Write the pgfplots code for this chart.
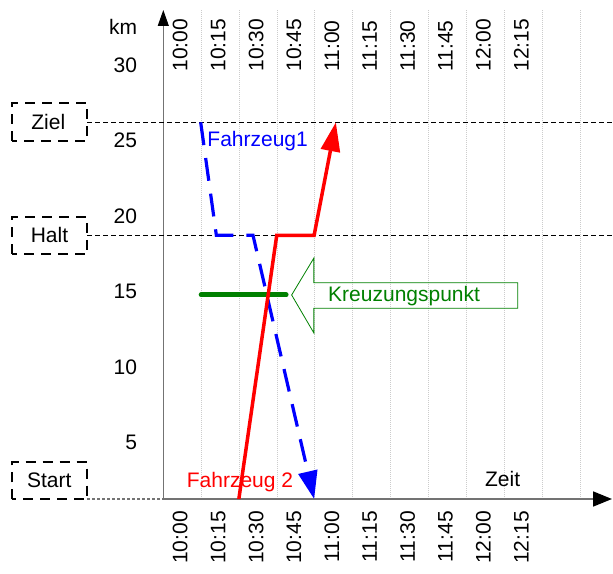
\documentclass[border=0pt]{standalone}
\usepackage{fontspec}
\setmainfont{Liberation Sans}
\usepackage{pgfplots}
\pgfplotsset{compat=1.18}
\usetikzlibrary{arrows.meta}
\definecolor{dgreen}{RGB}{0,128,0}
\definecolor{pblue}{RGB}{0,0,255}
\definecolor{pred}{RGB}{255,0,0}
\newcommand\fs{\fontsize{21bp}{25bp}\selectfont}
\begin{document}
\begin{tikzpicture}
\begin{axis}[
  at={(163.3bp,75bp)}, anchor=south west,
  scale only axis, width=448.7bp, height=489bp,
  xmin=0, xmax=177.6, ymin=1.24, ymax=33.67,
  axis lines=left,
  x axis line style={draw=black!55, line width=1.8bp, -{Triangle[length=19bp,width=15bp,color=black]}},
  y axis line style={draw=black!55, line width=1bp, -{Triangle[length=16bp,width=11bp,color=black]}},
  xtick={6.7,21.7,36.7,51.7,66.7,81.7,96.7,111.7,126.7,141.7},
  xticklabels={10:00,10:15,10:30,10:45,11:00,11:15,11:30,11:45,12:00,12:15},
  xticklabel style={rotate=90, anchor=east, inner sep=0pt, font=\fs},
  xticklabel shift=12bp,
  ytick={5,10,15,20,25,30},
  yticklabel style={anchor=east, inner sep=0pt, font=\fs},
  yticklabel shift=26bp,
  major tick length=0pt, minor tick length=0pt,
  minor xtick={15,30,45,60,75,90,105,120,135,150,165},
  xminorgrids,
  minor grid style={black!20, line width=0.8bp, dash pattern=on 1bp off 1bp},
  clip=false,
  /pgf/number format/assume math mode=true,
]
% reference lines
\draw[black, line width=1bp, dash pattern=on 5bp off 3bp] (axis cs:-30.1,26.22) -- (axis cs:177.8,26.22);
\draw[black, line width=1bp, dash pattern=on 5bp off 3bp] (axis cs:-30.1,18.73) -- (axis cs:177.8,18.73);
\draw[black!55, line width=1.5bp, dash pattern=on 3bp off 2bp] (axis cs:-30.1,1.24) -- (axis cs:0,1.24);
% callout
\draw[dgreen, line width=0.8bp] (axis cs:50.8,14.77) -- (axis cs:59.6,17.22) -- (axis cs:59.6,15.58) -- (axis cs:140.3,15.58) -- (axis cs:140.3,13.89) -- (axis cs:59.6,13.89) -- (axis cs:59.6,12.25) -- cycle;
\node[anchor=base west, inner sep=0pt, text=dgreen, font=\fs] at (axis cs:65.2,14.32) {Kreuzungspunkt};
% crossing line
\addplot[dgreen, line width=5bp, line cap=round] coordinates {(15,14.77) (48.6,14.77)};
% vehicle 1
\addplot[pblue, line width=3.2bp, dash pattern=on 23bp off 13bp, -{Triangle[length=28bp,width=19bp]}] coordinates {(14.8,26.22) (21,18.73) (35.5,18.73) (59.7,1.24)};
% vehicle 2
\addplot[pred, line width=3.5bp, -{Triangle[length=29bp,width=19bp]}] coordinates {(29.9,1.24) (44.9,18.73) (59.7,18.73) (68.3,26.22)};
% texts
\node[anchor=base west, inner sep=0pt, text=pblue, font=\fs] at (axis cs:17.4,24.6) {Fahrzeug1};
\node[anchor=base west, inner sep=0pt, text=pred, font=\fs] at (axis cs:9.26,2.02) {Fahrzeug 2};
\node[anchor=base west, inner sep=0pt, font=\fs] at (axis cs:127.3,2.06) {Zeit};
% top time labels
\node[rotate=90, anchor=west, inner sep=0pt, font=\fs] at (axis cs:6.7,29.58) {10:00};
\node[rotate=90, anchor=west, inner sep=0pt, font=\fs] at (axis cs:21.7,29.58) {10:15};
\node[rotate=90, anchor=west, inner sep=0pt, font=\fs] at (axis cs:36.7,29.58) {10:30};
\node[rotate=90, anchor=west, inner sep=0pt, font=\fs] at (axis cs:51.7,29.58) {10:45};
\node[rotate=90, anchor=west, inner sep=0pt, font=\fs] at (axis cs:66.7,29.58) {11:00};
\node[rotate=90, anchor=west, inner sep=0pt, font=\fs] at (axis cs:81.7,29.58) {11:15};
\node[rotate=90, anchor=west, inner sep=0pt, font=\fs] at (axis cs:96.7,29.58) {11:30};
\node[rotate=90, anchor=west, inner sep=0pt, font=\fs] at (axis cs:111.7,29.58) {11:45};
\node[rotate=90, anchor=west, inner sep=0pt, font=\fs] at (axis cs:126.7,29.58) {12:00};
\node[rotate=90, anchor=west, inner sep=0pt, font=\fs] at (axis cs:141.7,29.58) {12:15};
\end{axis}
% outside elements (picture coordinates in bp, y up)
\node[anchor=base east, inner sep=0pt, font=\fs] at (137.3bp,539.7bp) {km};
\draw[black, line width=1.8bp, dash pattern=on 10bp off 7bp] (11.7bp,433.3bp) rectangle (87.3bp,470.7bp);
\draw[black, line width=1.8bp, dash pattern=on 10bp off 7bp] (11.7bp,320bp) rectangle (87.3bp,357.3bp);
\draw[black, line width=1.8bp, dash pattern=on 10bp off 7bp] (11.7bp,74.7bp) rectangle (87.3bp,111.7bp);
\node[inner sep=0pt, font=\fs] at (48.3bp,452bp) {Ziel};
\node[inner sep=0pt, font=\fs] at (49.5bp,339bp) {Halt};
\node[inner sep=0pt, font=\fs] at (49.2bp,94bp) {Start};
\pgfresetboundingbox
\useasboundingbox (0,0) rectangle (613bp,574bp);
\end{tikzpicture}
\end{document}
